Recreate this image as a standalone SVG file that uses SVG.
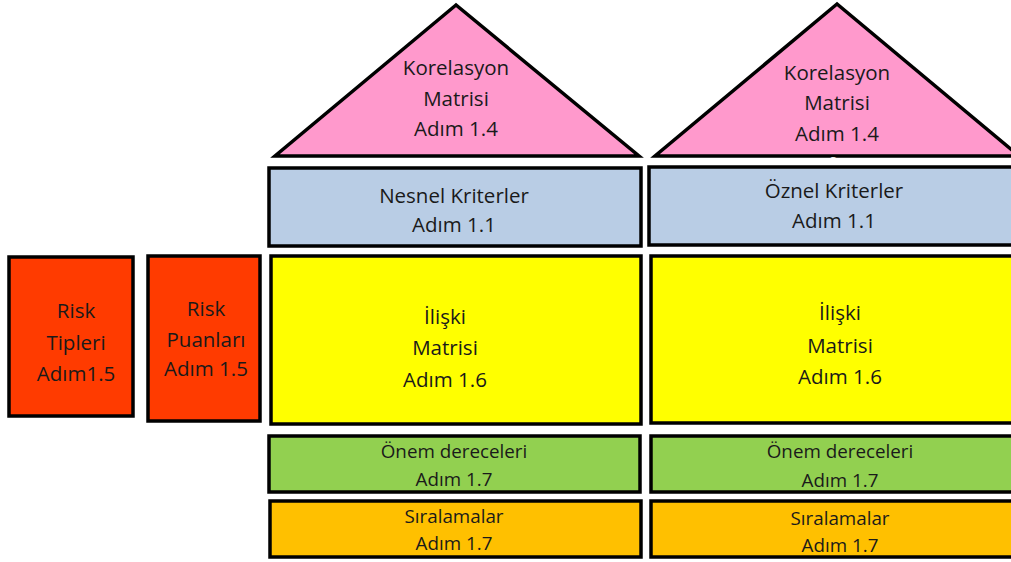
<svg xmlns="http://www.w3.org/2000/svg" width="1011" height="562" viewBox="0 0 1011 562">
<style>
.s{stroke:#000;stroke-width:3.5;stroke-linejoin:miter}
.t{font-family:"Open Sans","Liberation Sans",sans-serif;font-size:20.5px;fill:#1a1a1a;text-anchor:middle}
.m{font-size:18.8px}
.c{font-family:"Liberation Sans",sans-serif;font-size:11px;fill:#fff;text-anchor:middle}
</style>
<rect width="1011" height="562" fill="#fff"/>
<g id="corr1">
<polygon class="s" points="456,5 275,156 639,156" fill="#FF99CC"/>
<text class="t" x="456" y="75">Korelasyon</text>
<text class="t" x="456" y="106">Matrisi</text>
<text class="t" x="456" y="136">Adım 1.4</text>
</g>
<g id="corr2">
<polygon class="s" points="837,4 655,156 1019,156" fill="#FF99CC"/>
<text class="t" x="837" y="80">Korelasyon</text>
<text class="t" x="837" y="110">Matrisi</text>
<text class="t" x="837" y="141">Adım 1.4</text>
</g>
<g id="nesnel">
<rect class="s" x="269" y="168" width="372" height="78" fill="#B9CDE5"/>
<text class="t" x="454" y="203">Nesnel Kriterler</text>
<text class="t" x="454" y="232">Adım 1.1</text>
</g>
<g id="oznel">
<rect class="s" x="649" y="167" width="372" height="78" fill="#B9CDE5"/>
<text class="t" x="834" y="198">Öznel Kriterler</text>
<text class="t" x="834" y="228">Adım 1.1</text>
</g>
<text class="c" x="456" y="166">Cu</text>
<text class="c" x="836" y="165">Cu</text>
<g id="iliski1">
<rect class="s" x="271" y="256" width="370" height="168" fill="#FFFF00"/>
<text class="t" x="445" y="324">İlişki</text>
<text class="t" x="445" y="355">Matrisi</text>
<text class="t" x="445" y="387">Adım 1.6</text>
</g>
<g id="iliski2">
<rect class="s" x="651" y="256" width="370" height="167" fill="#FFFF00"/>
<text class="t" x="840" y="320">İlişki</text>
<text class="t" x="840" y="353">Matrisi</text>
<text class="t" x="840" y="384">Adım 1.6</text>
</g>
<g id="onem1">
<rect class="s" x="269" y="436" width="371" height="56" fill="#92D050"/>
<text class="t m" x="454" y="458">Önem dereceleri</text>
<text class="t m" x="454" y="486">Adım 1.7</text>
</g>
<g id="onem2">
<rect class="s" x="651" y="436" width="370" height="56" fill="#92D050"/>
<text class="t m" x="840" y="458">Önem dereceleri</text>
<text class="t m" x="840" y="487">Adım 1.7</text>
</g>
<g id="sira1">
<rect class="s" x="270" y="501" width="371" height="56" fill="#FFC000"/>
<text class="t m" x="454" y="523">Sıralamalar</text>
<text class="t m" x="454" y="550">Adım 1.7</text>
</g>
<g id="sira2">
<rect class="s" x="651" y="501" width="370" height="56" fill="#FFC000"/>
<text class="t m" x="840" y="525">Sıralamalar</text>
<text class="t m" x="840" y="552">Adım 1.7</text>
</g>
<g id="risktip">
<rect class="s" x="9" y="257" width="124" height="159" fill="#FF3B00"/>
<text class="t" x="76" y="318">Risk</text>
<text class="t" x="76" y="350">Tipleri</text>
<text class="t" x="76" y="381">Adım1.5</text>
</g>
<g id="riskpuan">
<rect class="s" x="148" y="256" width="112" height="165" fill="#FF3B00"/>
<text class="t" x="206" y="316">Risk</text>
<text class="t" x="206" y="347">Puanları</text>
<text class="t" x="206" y="376">Adım 1.5</text>
</g>
<g id="connectors"></g>
</svg>
